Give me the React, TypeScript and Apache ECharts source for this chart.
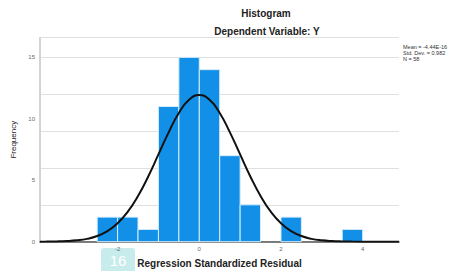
import React, { useEffect, useRef } from "react";
import * as echarts from "echarts";

const binStarts = [-2.5, -2, -1.5, -1, -0.5, 0, 0.5, 1, 1.5, 2, 2.5, 3, 3.5];
const binWidth = 0.5;
const counts = [2, 2, 1, 11, 15, 14, 7, 3, 0, 2, 0, 0, 1];
const curveX = [-3.9, -3.75, -3.5, -3.25, -3, -2.75, -2.5, -2.25, -2, -1.75, -1.5, -1.25, -1, -0.75, -0.5, -0.25, 0, 0.25, 0.5, 0.75, 1, 1.25, 1.5, 1.75, 2, 2.25, 2.5, 2.75, 3, 3.25, 3.5, 3.75, 4, 4.25, 4.5, 4.89];
const curveY = [0.005, 0.008, 0.021, 0.049, 0.11, 0.23, 0.46, 0.86, 1.5, 2.44, 3.72, 5.31, 7.1, 8.9, 10.48, 11.55, 11.93, 11.55, 10.48, 8.9, 7.1, 5.31, 3.72, 2.44, 1.5, 0.86, 0.46, 0.23, 0.11, 0.049, 0.021, 0.008, 0.003, 0.001, 0.0003, 0];
const xTickLabels = [-2, 0, 2, 4];
const yTickLabels = [0, 5, 10, 15];
const statsLines = ["Mean = -4.44E-16", "Std. Dev. = 0.982", "N = 58"];

export default function App() {
  const ref = useRef<HTMLDivElement>(null);
  useEffect(() => {
    if (!ref.current) return;
    const chart = echarts.init(ref.current, null, { renderer: "svg" });
    const barData = binStarts.map((s, i) => [s, s + binWidth, counts[i]]).filter((d) => d[2] > 0);
    chart.setOption({
      animation: false,
      backgroundColor: "#ffffff",
      textStyle: { fontFamily: "Arial, Liberation Sans, sans-serif" },
      title: [
        {
          text: "Histogram",
          left: 266,
          top: 8,
          padding: 0,
          textAlign: "center",
          textStyle: { fontSize: 10, fontWeight: "bold", color: "#222" },
        },
        {
          text: "Dependent Variable: Y",
          left: 267,
          top: 26,
          padding: 0,
          textAlign: "center",
          textStyle: { fontSize: 10, fontWeight: "bold", color: "#222" },
        },
      ],
      grid: { left: 40, right: 57, top: 37.7, bottom: 29.3, outerBoundsMode: "none", containLabel: false },
      xAxis: {
        type: "value",
        min: -3.9,
        max: 4.89,
        splitLine: { show: false },
        axisLine: { show: true, lineStyle: { color: "#555", width: 1.5 } },
        axisTick: { show: false },
        axisLabel: {
          customValues: xTickLabels,
          fontSize: 6,
          color: "#666",
          margin: 4,
        },
        name: "Regression Standardized Residual",
        nameLocation: "middle",
        nameGap: 17,
        nameTextStyle: { fontSize: 10, fontWeight: "bold", color: "#222" },
      },
      yAxis: {
        type: "value",
        min: 0,
        max: 16.6,
        splitLine: { show: true, lineStyle: { color: "#e0e0e0", width: 1 } },
        axisLine: { show: true, onZero: false, lineStyle: { color: "#d4d4d4", width: 2 } },
        axisTick: { show: false },
        axisLabel: {
          customValues: yTickLabels,
          fontSize: 6,
          color: "#666",
          margin: 5,
        },
        name: "Frequency",
        nameLocation: "middle",
        nameRotate: 90,
        nameGap: 19,
        nameTextStyle: { fontSize: 8, color: "#222" },
      },
      series: [
        {
          type: "custom",
          renderItem: (params: any, api: any) => {
            const p0 = api.coord([api.value(0), api.value(2)]);
            const p1 = api.coord([api.value(1), 0]);
            return {
              type: "rect",
              shape: { x: p0[0], y: p0[1], width: p1[0] - p0[0], height: p1[1] - p0[1] },
              style: { fill: "#1290e8", stroke: "#d8ecfb", lineWidth: 1 },
            };
          },
          encode: { x: [0, 1], y: 2 },
          data: barData,
          z: 2,
        },
        {
          type: "line",
          data: curveX.map((x, i) => [x, curveY[i]]),
          smooth: true,
          symbol: "none",
          lineStyle: { color: "#111", width: 2 },
          z: 3,
        },
      ],
      graphic: [
        {
          type: "text",
          left: 403,
          top: 44,
          style: {
            text: statsLines.join("\n"),
            fontSize: 5.5,
            lineHeight: 6,
            fill: "#333",
            fontFamily: "Arial, Liberation Sans, sans-serif",
          },
        },
        {
          type: "rect",
          shape: { x: 101, y: 248, width: 34, height: 26, r: 3 },
          style: { fill: "#c8ecec" },
        },
        {
          type: "text",
          x: 118,
          y: 260,
          style: {
            text: "16",
            fontSize: 15,
            fill: "#ffffff",
            textAlign: "center",
            textVerticalAlign: "middle",
            fontFamily: "Arial, Liberation Sans, sans-serif",
          },
        },
      ],
    });
    return () => chart.dispose();
  }, []);
  return <div ref={ref} style={{ position: "absolute", left: 0, top: 0, width: 456, height: 271 }} />;
}
